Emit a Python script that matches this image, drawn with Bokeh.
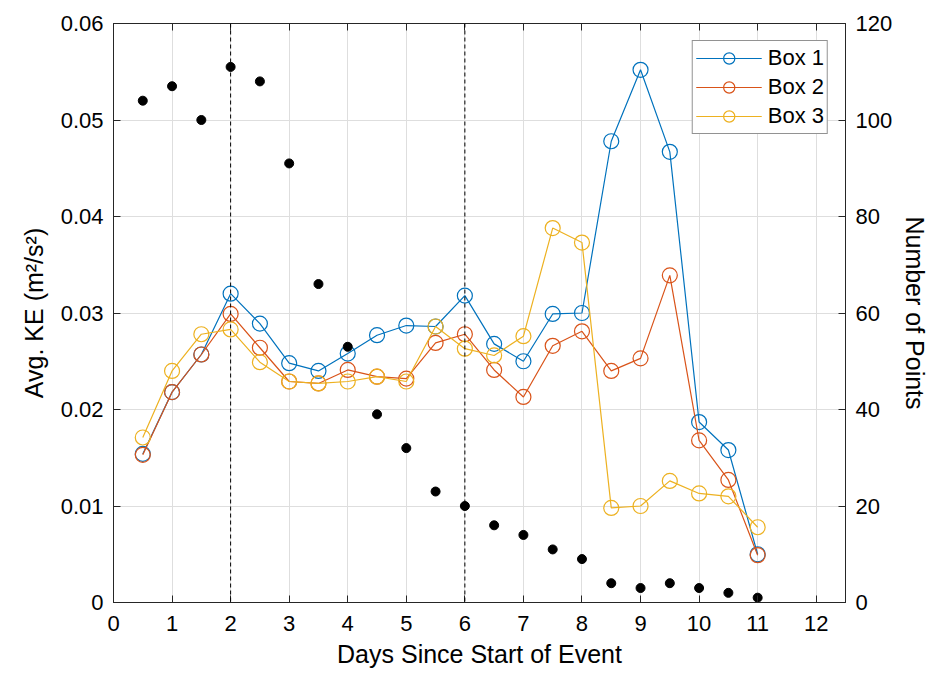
from bokeh.plotting import figure
from bokeh.models import (Range1d, LinearAxis, FixedTicker, CustomJSTickFormatter,
                          Span, Legend, LegendItem)
from bokeh.embed import file_html
from bokeh.resources import INLINE

days = [0.5, 1, 1.5, 2, 2.5, 3, 3.5, 4, 4.5, 5, 5.5, 6, 6.5, 7, 7.5, 8,
        8.5, 9, 9.5, 10, 10.5, 11]
box1 = [0.0154, 0.0218, 0.0257, 0.0320, 0.0289, 0.0248, 0.0240, 0.0258, 0.0277,
        0.0287, 0.0286, 0.0318, 0.0268, 0.0250, 0.0299, 0.0300, 0.0478, 0.0552,
        0.0467, 0.0187, 0.0158, 0.0050]
box2 = [0.0153, 0.0218, 0.0257, 0.0299, 0.0264, 0.0229, 0.0227, 0.0241, 0.0234,
        0.0232, 0.0269, 0.0278, 0.0241, 0.0213, 0.0266, 0.0281, 0.0240, 0.0253,
        0.0339, 0.0168, 0.0127, 0.0049]
box3 = [0.0171, 0.0240, 0.0278, 0.0283, 0.0249, 0.0229, 0.0227, 0.0229, 0.0234,
        0.0229, 0.0286, 0.0263, 0.0256, 0.0276, 0.0388, 0.0373, 0.0098, 0.0100,
        0.0126, 0.0113, 0.0110, 0.0078]
n_points = [104, 107, 100, 111, 108, 91, 66, 53, 39, 32, 23, 20, 16, 14, 11, 9,
            4, 3, 4, 3, 2, 1]
event_days = [2, 6]
series_names = ["Box 1", "Box 2", "Box 3"]
colors = ["#0072BD", "#D95319", "#EDB120"]

x_ticks = list(range(0, 13))
y_ticks = [0, 0.01, 0.02, 0.03, 0.04, 0.05, 0.06]
n_ticks = [0, 20, 40, 60, 80, 100, 120]

FONT = "Liberation Sans"
AX = "#262626"

p = figure(width=933, height=677, output_backend="svg", toolbar_location=None,
           x_range=Range1d(0, 12.5), y_range=Range1d(0, 0.06),
           min_border_left=113, min_border_right=88, min_border_top=23,
           min_border_bottom=75)
p.extra_y_ranges = {"n": Range1d(0, 120)}
p.outline_line_color = AX
p.outline_line_width = 1

def style_axis(ax):
    ax.major_tick_in = 7
    ax.major_tick_out = 0
    ax.minor_tick_line_color = None
    ax.axis_line_color = AX
    ax.major_tick_line_color = AX
    ax.major_label_text_font = FONT
    ax.major_label_text_font_size = "22px"
    ax.major_label_text_color = "black"
    ax.axis_label_text_font = FONT
    ax.axis_label_text_font_size = "25px"
    ax.axis_label_text_font_style = "normal"
    ax.axis_label_text_color = "black"

xa = p.xaxis[0]
xa.ticker = FixedTicker(ticks=x_ticks)
xa.axis_label = "Days Since Start of Event"
style_axis(xa)
xa.major_label_standoff = 13
xa.axis_label_standoff = 6

ya = p.yaxis[0]
ya.ticker = FixedTicker(ticks=y_ticks)
ya.formatter = CustomJSTickFormatter(code="return tick == 0 ? '0' : tick.toFixed(2);")
ya.axis_label = "Avg. KE (m²/s²)"
style_axis(ya)
ya.major_label_standoff = 10
ya.axis_label_standoff = 10

ra = LinearAxis(y_range_name="n", ticker=FixedTicker(ticks=n_ticks),
                axis_label="Number of Points")
style_axis(ra)
ra.major_label_standoff = 10
ra.axis_label_standoff = 6
p.add_layout(ra, "right")

ta = LinearAxis(ticker=FixedTicker(ticks=x_ticks),
                formatter=CustomJSTickFormatter(code="return '';"))
style_axis(ta)
ta.major_label_standoff = 0
p.add_layout(ta, "above")

p.xgrid.ticker = FixedTicker(ticks=x_ticks)
p.ygrid.ticker = FixedTicker(ticks=y_ticks)
for g in (p.xgrid, p.ygrid):
    g.grid_line_color = "#dedede"
    g.grid_line_width = 1

for d in event_days:
    p.add_layout(Span(location=d, dimension="height", line_color="black",
                      line_width=1, line_dash="4 3"))

items = []
for name, vals, c in zip(series_names, [box1, box2, box3], colors):
    l = p.line(days, vals, line_color=c, line_width=1.2)
    s = p.scatter(days, vals, marker="circle", size=15, fill_color=None,
                  line_color=c, line_width=1.2)
    items.append(LegendItem(label=name, renderers=[l, s]))

p.scatter(days, n_points, y_range_name="n", marker="circle", size=9,
          fill_color="black", line_color="black")

legend = Legend(items=items, location="top_right", margin=17)
legend.label_text_font = FONT
legend.label_text_font_size = "22px"
legend.label_text_color = "black"
legend.glyph_width = 66
legend.glyph_height = 28
legend.label_height = 28
legend.spacing = 1
legend.padding = 3
legend.label_standoff = 6
legend.border_line_color = AX
legend.border_line_width = 1
legend.background_fill_alpha = 1
p.add_layout(legend, "center")

open("out.html", "w").write(file_html(p, INLINE))
